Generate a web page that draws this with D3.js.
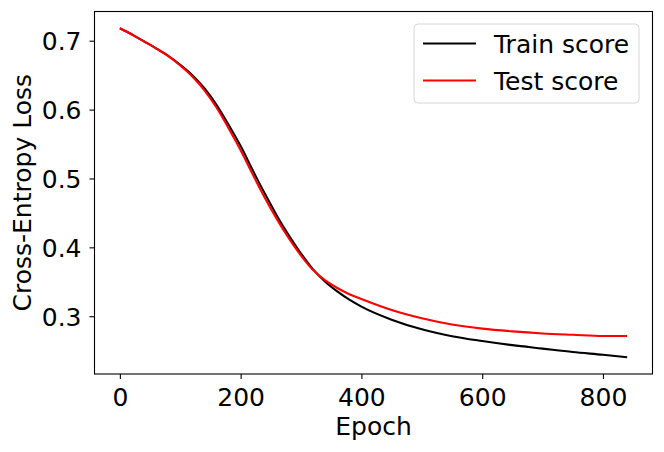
<!DOCTYPE html>
<html><head><meta charset="utf-8">
<script src="https://cdn.jsdelivr.net/npm/d3@7"></script>
<style>body{margin:0;background:#fff}svg{display:block}text{font-family:"DejaVu Sans",sans-serif;fill:#000}</style>
</head><body><svg id="c" width="664" height="452"></svg>
<script>
const epochs     = [0,20,40,60,80,100,120,140,160,180,200,220,240,260,280,300,320,340,360,380,400,450,500,550,600,650,700,750,800,840];
const trainScore = [0.718,0.709,0.699,0.689,0.678,0.665,0.650,0.631,0.607,0.578,0.547,0.512,0.478,0.446,0.417,0.391,0.368,0.350,0.336,0.324,0.314,0.295,0.281,0.271,0.264,0.258,0.253,0.248,0.244,0.2405];
const testScore  = [0.718,0.709,0.699,0.689,0.678,0.664,0.648,0.628,0.603,0.573,0.541,0.506,0.472,0.441,0.413,0.388,0.367,0.352,0.341,0.332,0.325,0.309,0.297,0.288,0.282,0.278,0.275,0.273,0.2712,0.2712];
const xTicks = [0,200,400,600,800];
const yTicks = [0.3,0.4,0.5,0.6,0.7];
const seriesNames = ["Train score","Test score"];
const seriesColors = ["#000000","#ff0000"];

const svg = d3.select("#c");
const L=94.5, R=652.5, T=11.5, B=374;
const x = d3.scaleLinear().domain([-42,882]).range([L,R]);
const y = d3.scaleLinear().domain([0.2161,0.7424]).range([B,T]);
const fs = 25;

const line = d3.line().x((d,i)=>x(epochs[i])).y(d=>y(d)).curve(d3.curveMonotoneX);
[trainScore,testScore].forEach((s,k)=>{
  svg.append("path").attr("d",line(s)).attr("fill","none")
    .attr("stroke",seriesColors[k]).attr("stroke-width",2.1).attr("stroke-linejoin","round");
});

const xa = svg.append("g").attr("transform",`translate(0,${B})`)
  .call(d3.axisBottom(x).tickValues(xTicks).tickFormat(d3.format("d")).tickSize(5).tickPadding(8));
const ya = svg.append("g").attr("transform",`translate(${L},0)`)
  .call(d3.axisLeft(y).tickValues(yTicks).tickFormat(d3.format(".1f")).tickSize(5).tickPadding(8));
[xa,ya].forEach(a=>{
  a.select(".domain").remove();
  a.selectAll("line").attr("stroke","#000").attr("stroke-width",1.1);
  a.selectAll("text").attr("font-size",fs).attr("font-family","DejaVu Sans").attr("fill","#000");
});
xa.selectAll("text").attr("y",0).attr("dy",0).attr("transform","translate(0,32)");
ya.selectAll("text").attr("dy","0.36em");

svg.append("rect").attr("x",L).attr("y",T).attr("width",R-L).attr("height",B-T)
  .attr("fill","none").attr("stroke","#000").attr("stroke-width",1.1);

svg.append("text").attr("x",(L+R)/2).attr("y",435).attr("text-anchor","middle").attr("font-size",fs).text("Epoch");
svg.append("text").attr("transform",`translate(31,${(T+B)/2}) rotate(-90)`).attr("text-anchor","middle").attr("font-size",fs).text("Cross-Entropy Loss");

const lg = svg.append("g");
lg.append("rect").attr("x",414).attr("y",24).attr("width",225).attr("height",79).attr("rx",4)
  .attr("fill","#fff").attr("fill-opacity",0.8).attr("stroke","#d6d6d6").attr("stroke-width",1);
seriesNames.forEach((n,k)=>{
  const yy = 43.5 + k*37;
  lg.append("line").attr("x1",423).attr("x2",476).attr("y1",yy).attr("y2",yy).attr("stroke",seriesColors[k]).attr("stroke-width",2.1);
  lg.append("text").attr("x",494).attr("y",yy).attr("dy","0.36em").attr("font-size",fs).text(n);
});
</script></body></html>
